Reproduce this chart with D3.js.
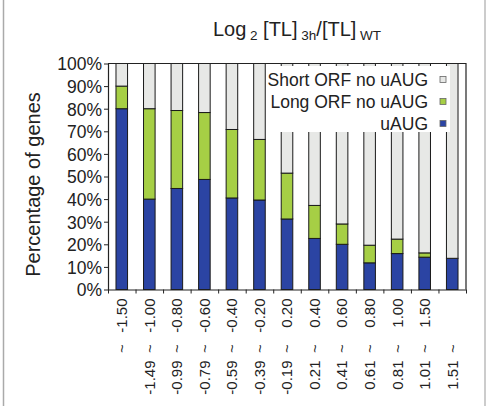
<!DOCTYPE html>
<html>
<head>
<meta charset="utf-8">
<script src="https://cdn.jsdelivr.net/npm/d3@7"></script>
<style>
  body { margin: 0; background: #fff; }
  svg { font-family: "Liberation Sans", Arial, Helvetica, sans-serif; }
</style>
</head>
<body>
<svg id="chart" width="488" height="406"></svg>
<script>
// bins of Log2 [TL]3h/[TL]WT
var binLow  = ["", "-1.49", "-0.99", "-0.79", "-0.59", "-0.39", "-0.19", "0.21", "0.41", "0.61", "0.81", "1.01", "1.51"];
var binHigh = ["-1.50", "-1.00", "-0.80", "-0.60", "-0.40", "-0.20", "0.20", "0.40", "0.60", "0.80", "1.00", "1.50", ""];

// percentage of genes per bin
var uAUG     = [80, 40, 44.7, 48.7, 40.5, 39.6, 31.2, 22.6, 20, 11.8, 15.9, 14.3, 13.8];
var longORF  = [10, 40, 34.5, 29.6, 30.3, 26.8, 20.3, 14.6, 9, 7.8, 6.4, 1.9, 0];
var shortORF = [10, 20, 20.8, 21.7, 29.2, 33.6, 48.5, 62.8, 71, 80.4, 77.7, 83.8, 86.2];

var yTicks = [0, 10, 20, 30, 40, 50, 60, 70, 80, 90, 100];

var keys = ["uAUG", "longORF", "shortORF"];
var legendLabels = {shortORF: "Short ORF no uAUG", longORF: "Long ORF no uAUG", uAUG: "uAUG"};
var color = {uAUG: "#2b44a3", longORF: "#a6cf45", shortORF: "#e7e8e6"};

var rows = binLow.map(function(d, i) {
  return {i: i, uAUG: uAUG[i], longORF: longORF[i], shortORF: shortORF[i]};
});

var margin = {top: 63.5, right: 22, bottom: 116.5, left: 108};
var width = 488 - margin.left - margin.right;
var height = 406 - margin.top - margin.bottom;

var svg = d3.select("#chart");

// outer frame lines
svg.append("line").attr("x1", 3.5).attr("x2", 3.5).attr("y1", 0).attr("y2", 406)
  .attr("stroke", "#aaa").attr("stroke-width", 1.5);
svg.append("line").attr("x1", 485).attr("x2", 485).attr("y1", 0).attr("y2", 406)
  .attr("stroke", "#bbb").attr("stroke-width", 1.5);

var g = svg.append("g").attr("transform", "translate(" + margin.left + "," + margin.top + ")");

var x = d3.scaleBand()
  .domain(rows.map(function(d) { return d.i; }))
  .range([0, width])
  .paddingInner(0.58)
  .paddingOuter(0.29);

var xEdge = d3.scaleLinear().domain([0, rows.length]).range([0, width]);

var y = d3.scaleLinear().domain([0, 100]).range([height, 0]);

var stack = d3.stack().keys(keys);
var series = stack(rows);

g.selectAll(".layer")
  .data(series)
  .enter().append("g")
  .attr("class", "layer")
  .attr("fill", function(d) { return color[d.key]; })
  .selectAll("rect")
  .data(function(d) { return d.filter(function(s) { return s[1] - s[0] > 0; }); })
  .enter().append("rect")
  .attr("x", function(d) { return x(d.data.i); })
  .attr("width", x.bandwidth())
  .attr("y", function(d) { return y(d[1]); })
  .attr("height", function(d) { return y(d[0]) - y(d[1]); })
  .attr("stroke", "#1a1a1a")
  .attr("stroke-width", 1);

// plot frame (top, right)
g.append("path")
  .attr("d", "M0,0H" + width + "V" + height)
  .attr("fill", "none").attr("stroke", "#222").attr("stroke-width", 1.2);

// y axis
var yAxis = g.append("g")
  .call(d3.axisLeft(y).tickValues(yTicks).tickSize(4).tickSizeOuter(0)
    .tickFormat(function(d) { return d + "%"; }));
yAxis.select(".domain").attr("stroke", "#222").attr("stroke-width", 1.2);
yAxis.selectAll("line").attr("stroke", "#222");
yAxis.selectAll("text").attr("font-size", "17.5px").attr("fill", "#222")
  .attr("font-family", "Liberation Sans, Arial, sans-serif").attr("x", -6).attr("dy", "0.36em");

// x axis (ticks at bin edges)
var xAxis = g.append("g")
  .attr("transform", "translate(0," + height + ")")
  .call(d3.axisBottom(xEdge).tickValues(d3.range(rows.length + 1)).tickSize(4).tickSizeOuter(0)
    .tickFormat(""));
xAxis.select(".domain").attr("stroke", "#222").attr("stroke-width", 1.2);
xAxis.selectAll("line").attr("stroke", "#222");

// rotated bin labels
var lab = g.selectAll(".binlab")
  .data(rows)
  .enter().append("g")
  .attr("class", "binlab")
  .attr("transform", function(d) {
    return "translate(" + (x(d.i) + x.bandwidth() / 2) + "," + height + ") rotate(-90)";
  })
  .attr("font-size", "15px")
  .attr("fill", "#222");

lab.append("text")
  .attr("x", -9).attr("dy", "0.36em").attr("text-anchor", "end")
  .text(function(d) { return binHigh[d.i]; });
lab.append("text")
  .attr("x", -59).attr("dy", "0.36em").attr("text-anchor", "middle")
  .text("~");
lab.append("text")
  .attr("x", -71).attr("dy", "0.36em").attr("text-anchor", "end")
  .text(function(d) { return binLow[d.i]; });

// legend
var legend = g.append("g");
legend.append("rect")
  .attr("x", 159).attr("y", 2.5).attr("width", 183).attr("height", 66)
  .attr("fill", "#fff");
var legendKeys = ["shortORF", "longORF", "uAUG"];
var li = legend.selectAll(".li")
  .data(legendKeys)
  .enter().append("g")
  .attr("transform", function(d, i) { return "translate(0," + (22 + i * 22) + ")"; });
li.append("text")
  .attr("x", 320).attr("text-anchor", "end")
  .attr("font-size", "17.5px").attr("fill", "#222")
  .text(function(d) { return legendLabels[d]; });
li.append("rect")
  .attr("x", 332).attr("y", -9).attr("width", 6).attr("height", 6)
  .attr("fill", function(d) { return color[d]; })
  .attr("stroke", "#666").attr("stroke-width", 0.8);

// title
var title = svg.append("text")
  .attr("x", 297).attr("y", 36)
  .attr("text-anchor", "middle")
  .attr("font-size", "20px").attr("fill", "#222");
title.append("tspan").text("Log");
title.append("tspan").attr("font-size", "13.5px").attr("dy", 4).text(" 2");
title.append("tspan").attr("dy", -4).text(" [TL]");
title.append("tspan").attr("font-size", "13.5px").attr("dy", 4).text(" 3h");
title.append("tspan").attr("dy", -4).text("/[TL]");
title.append("tspan").attr("font-size", "13.5px").attr("dy", 4).text(" WT");

// y label
svg.append("text")
  .attr("transform", "translate(39.5,184.5) rotate(-90)")
  .attr("text-anchor", "middle")
  .attr("font-size", "20px").attr("fill", "#222")
  .text("Percentage of genes");
</script>
</body>
</html>
